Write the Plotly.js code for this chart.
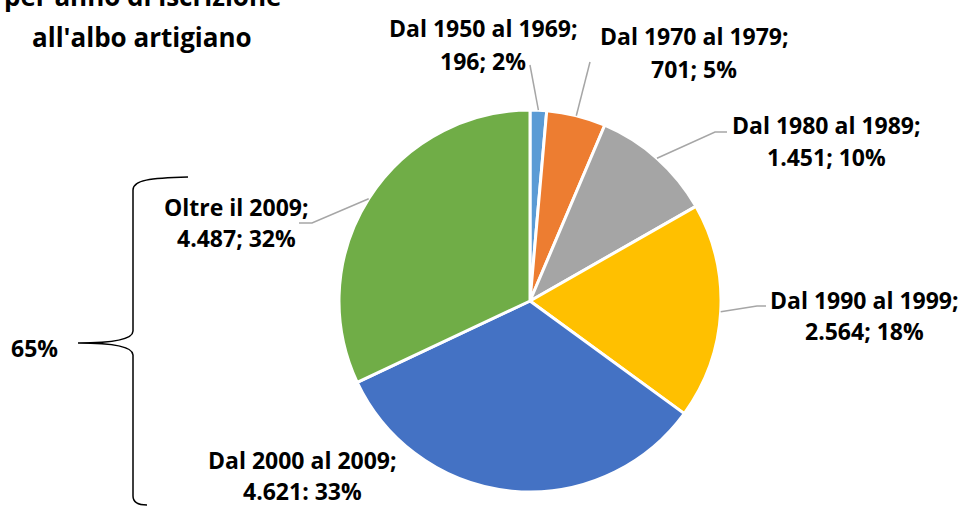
<!DOCTYPE html>
<html>
<head>
<meta charset="utf-8">
<script src="https://cdn.plot.ly/plotly-3.0.1.min.js"></script>
<style>html,body{margin:0;padding:0;background:#fff;}#chart{width:960px;height:506px;}</style>
</head>
<body>
<div id="chart"></div>
<script>
// ---- data ----
var categories = ["Dal 1950 al 1969", "Dal 1970 al 1979", "Dal 1980 al 1989", "Dal 1990 al 1999", "Dal 2000 al 2009", "Oltre il 2009"];
var values = [196, 701, 1451, 2564, 4621, 4487];
var valueTexts = ["196; 2%", "701; 5%", "1.451; 10%", "2.564; 18%", "4.621: 33%", "4.487; 32%"];
var colors = ["#5B9BD5", "#ED7D31", "#A5A5A5", "#FFC000", "#4472C4", "#70AD47"];
var titleLines = ["per anno di iscrizione", "all'albo artigiano"];
var bracketLabel = "65%";

// ---- layout geometry (pixels) ----
var W = 960, H = 506;
var cx = 530, cy = 301, R = 191;
// label centres: [x, line1 y, line2 y]
var labelPos = [[483, 28, 61], [694, 36, 69], [826, 125, 157], [864, 300, 331], [302, 460, 491], [236, 207, 238]];
// leader line end points (after the edge point), null = no leader
var leaderEnds = [
  [[530, 65]],
  [[590, 62]],
  [[715, 132], [727, 132]],
  [[757, 306], [766, 306]],
  null,
  [[312, 223], [299, 223]]
];

var font = "'Open Sans', sans-serif";
var fs = 23;
var total = values.reduce(function (a, b) { return a + b; }, 0);

var shapes = [];
var annotations = [];
var cum = 0;
for (var i = 0; i < values.length; i++) {
  var mid = (cum + values[i] / 2) / total * 2 * Math.PI;
  cum += values[i];
  if (leaderEnds[i]) {
    var sx = cx + R * Math.sin(mid), sy = cy - R * Math.cos(mid);
    var p = "M " + sx.toFixed(1) + " " + sy.toFixed(1);
    leaderEnds[i].forEach(function (pt) { p += " L " + pt[0] + " " + pt[1]; });
    shapes.push({type: "path", xref: "x", yref: "y", path: p, line: {color: "#A6A6A6", width: 1.5}});
  }
  annotations.push({xref: "x", yref: "y", x: labelPos[i][0], y: labelPos[i][1], text: categories[i] + ";", showarrow: false, xanchor: "center", yanchor: "middle", font: {family: font, size: fs, color: "#000", weight: "bold"}});
  annotations.push({xref: "x", yref: "y", x: labelPos[i][0], y: labelPos[i][2], text: valueTexts[i], showarrow: false, xanchor: "center", yanchor: "middle", font: {family: font, size: fs, color: "#000", weight: "bold"}});
}
// title (top line cut off by the page edge, as in the original)
annotations.push({xref: "x", yref: "paper", x: 142, y: 1 + 4 / H, text: titleLines[0], showarrow: false, xanchor: "center", yanchor: "middle", font: {family: font, size: 26, color: "#000", weight: "bold"}});
annotations.push({xref: "x", yref: "y", x: 142, y: 37, text: titleLines[1], showarrow: false, xanchor: "center", yanchor: "middle", font: {family: font, size: 26, color: "#000", weight: "bold"}});
annotations.push({xref: "x", yref: "y", x: 34, y: 348, text: bracketLabel, showarrow: false, xanchor: "center", yanchor: "middle", font: {family: font, size: fs, color: "#000", weight: "bold"}});

// curly bracket
shapes.push({type: "path", xref: "x", yref: "y",
  path: "M 188 177 C 150 178, 133 180, 133 190 L 133 331 C 133 340, 112 343, 78 343 C 112 343, 133 346, 133 355 L 133 496 C 133 503, 139 505, 147 505",
  line: {color: "#000", width: 1.5}});

var trace = {
  type: "pie",
  labels: categories,
  values: values,
  sort: false,
  direction: "clockwise",
  rotation: 0,
  textinfo: "none",
  hoverinfo: "label+value+percent",
  marker: {colors: colors, line: {color: "#FFFFFF", width: 3}},
  domain: {x: [(cx - R) / W, (cx + R) / W], y: [(H - cy - R) / H, (H - cy + R) / H]},
  showlegend: false
};

var layout = {
  width: W, height: H,
  margin: {l: 0, r: 0, t: 0, b: 0},
  paper_bgcolor: "#fff", plot_bgcolor: "rgba(0,0,0,0)",
  xaxis: {range: [0, W], visible: false, fixedrange: true},
  yaxis: {range: [H, 0], visible: false, fixedrange: true},
  showlegend: false,
  shapes: shapes,
  annotations: annotations
};

Plotly.newPlot("chart", [trace], layout, {displayModeBar: false, staticPlot: true});
</script>
</body>
</html>
